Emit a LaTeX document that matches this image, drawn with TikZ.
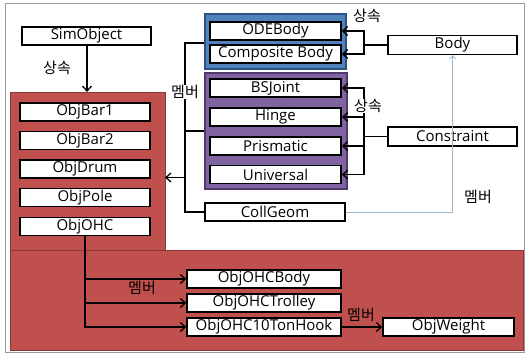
\documentclass[tikz,border=0pt]{standalone}
\usepackage{fontspec}
\setmainfont{Open Sans}
\newfontfamily\kr{Noto Sans CJK KR}
\usetikzlibrary{arrows.meta}
\definecolor{regionred}{HTML}{C0504D}
\definecolor{regionredline}{HTML}{8C3836}
\definecolor{groupblue}{HTML}{4F81BD}
\definecolor{groupblueline}{HTML}{2C5282}
\definecolor{grouppurple}{HTML}{8064A2}
\definecolor{grouppurpleline}{HTML}{4F3A6B}
\definecolor{memberlink}{HTML}{9DB7CF}
\tikzset{
  cls/.style={draw=black, line width=1.5pt, fill=white, inner sep=0pt,
    minimum height=18pt, font=\fontsize{15}{15}\selectfont},
  grp/.style={inner sep=0pt, line width=1.5pt},
  link/.style={draw=black, line width=1.2pt},
  arr/.style={link, -{Straight Barb[length=5pt,width=9pt,line width=1.3pt]}},
  tag/.style={font=\kr\fontsize{15}{15}\selectfont, inner sep=0.5pt},
}
\begin{document}
\begin{tikzpicture}[x=1pt, y=-1pt]
\useasboundingbox (0,0) rectangle (527,355);
\fill[white] (0,0) rectangle (527,355);
\draw[gray!80, line width=0.8pt] (5,3) rectangle (524,352);

% shaded regions
\filldraw[fill=regionred, draw=regionredline, line width=0.8pt] (10,92) rectangle (165,250);
\filldraw[fill=regionred, draw=regionredline, line width=0.8pt] (10,250) rectangle (523,350);

% group frames
\node[grp, draw=groupblueline, fill=groupblue, minimum width=141pt, minimum height=55pt] (bodygrp) at (275.5,41.5) {};
\node[grp, draw=grouppurpleline, fill=grouppurple, minimum width=142pt, minimum height=116pt] (jointgrp) at (276,131) {};

% classes
\node[cls, minimum width=129pt] (simobj) at (86.5,36) {SimObject};
\node[cls, minimum width=130pt] (bar1) at (85,112) {ObjBar1};
\node[cls, minimum width=130pt] (bar2) at (85,140.5) {ObjBar2};
\node[cls, minimum width=130pt] (drum) at (85,169) {ObjDrum};
\node[cls, minimum width=130pt] (pole) at (85,197.5) {ObjPole};
\node[cls, minimum width=130pt] (ohc) at (85,226.5) {ObjOHC};

\node[cls, minimum width=131pt] (ode) at (275.5,31) {ODEBody};
\node[cls, minimum width=131pt] (comp) at (275.5,54) {Composite Body};
\node[cls, minimum width=131pt] (bsj) at (275.5,88) {BSJoint};
\node[cls, minimum width=131pt] (hinge) at (275.5,117) {Hinge};
\node[cls, minimum width=131pt] (prism) at (275.5,146) {Prismatic};
\node[cls, minimum width=131pt] (univ) at (275.5,174.5) {Universal};
\node[cls, minimum width=140pt] (coll) at (275,212) {CollGeom};

\node[cls, minimum width=129pt, minimum height=19pt] (body) at (452.5,45) {Body};
\node[cls, minimum width=129pt, minimum height=19pt] (constr) at (452.5,136.5) {Constraint};

\node[cls, minimum width=154pt] (ohcbody) at (264,279) {ObjOHCBody};
\node[cls, minimum width=154pt] (trolley) at (264,303) {ObjOHCTrolley};
\node[cls, minimum width=154pt] (hook) at (264,327) {ObjOHC10TonHook};
\node[cls, minimum width=131pt] (weight) at (448.5,327) {ObjWeight};

% inheritance
\draw[arr] (simobj.south -| 87,0) -- (87,92);
\node[tag] at (57,68) {상속};

\coordinate (bj) at (364,45);
\draw[link] (body.west) -- (bj);
\draw[arr] (bj) |- (ode.east);
\draw[arr] (bj) |- (comp.east);
\node[tag] at (367,16) {상속};

\coordinate (cj) at (364,136.5);
\draw[link] (constr.west) -- (cj);
\draw[arr] (cj) |- (bsj.east);
\draw[arr] (cj) |- (hinge.east);
\draw[arr] (cj) |- (prism.east);
\draw[arr] (cj) |- (univ.east);
\node[tag, fill=white] at (368,106) {상속};

% membership
\coordinate (mtop) at (185,43);
\coordinate (mbot) at (185,212);
\draw[link] (bodygrp.west |- mtop) -- (mtop) -- (mbot) -- (coll.west);
\draw[link] (185,131) -- (jointgrp.west |- 0,131);
\draw[arr] (185,177.5) -- (165,177.5);
\node[tag, fill=white] at (185,92) {멤버};

\draw[memberlink, line width=0.8pt, -{Straight Barb[length=3pt,width=6pt]}] (coll.east) -| (body.south);
\node[tag] at (478,197) {멤버};

\draw[arr] (ohc.south) |- (ohcbody.west);
\draw[arr] (ohc.south) |- (trolley.west);
\draw[arr] (ohc.south) |- (hook.west);
\node[tag] at (142,288) {멤버};

\draw[arr] (hook.east) -- (weight.west);
\node[tag] at (361,315) {멤버};
\end{tikzpicture}
\end{document}
